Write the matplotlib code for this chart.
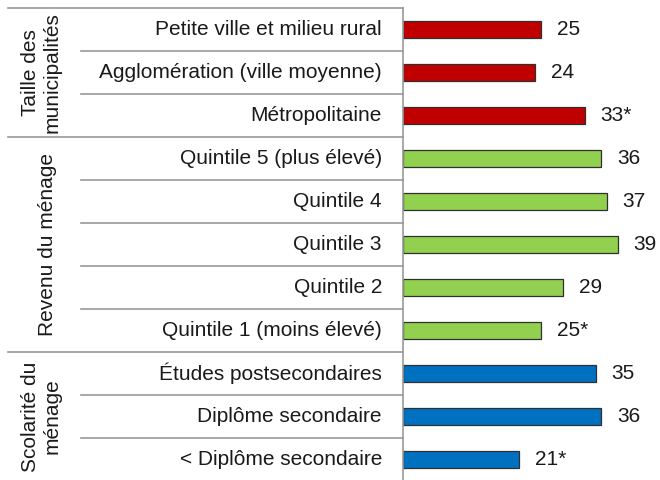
import matplotlib.pyplot as plt
import matplotlib.transforms as mtransforms

plt.rcParams['font.family'] = ['Liberation Sans', 'DejaVu Sans']

# rows from top to bottom
categories = [
    "Petite ville et milieu rural",
    "Agglomération (ville moyenne)",
    "Métropolitaine",
    "Quintile 5 (plus élevé)",
    "Quintile 4",
    "Quintile 3",
    "Quintile 2",
    "Quintile 1 (moins élevé)",
    "Études postsecondaires",
    "Diplôme secondaire",
    "< Diplôme secondaire",
]
values = [25, 24, 33, 36, 37, 39, 29, 25, 35, 36, 21]
value_labels = ["25", "24", "33*", "36", "37", "39", "29", "25*", "35", "36", "21*"]

groups = ["Taille des\nmunicipalités", "Revenu du ménage", "Scolarité du\nménage"]
group_sizes = [3, 5, 3]
group_colors = ["#C00000", "#92D050", "#0070C0"]

W, H = 660, 480
fig = plt.figure(figsize=(6.6, 4.8), dpi=100)
x0 = 403
top, bottom = 8, 481
ax = fig.add_axes([x0 / W, 1 - bottom / H, (W - x0) / W, (bottom - top) / H])

n = len(categories)
ax.set_ylim(n, 0)
ax.set_xlim(0, (W - x0) / 5.5)
ax.axis("off")

colors = []
for c, s in zip(group_colors, group_sizes):
    colors += [c] * s

ypos = [i + 0.5 for i in range(n)]
ax.barh(ypos, values, height=0.4, color=colors, edgecolor="#303030", linewidth=0.9)

fs = 15
txt_col = "#1a1a1a"

# value labels
offset = mtransforms.offset_copy(ax.transData, fig=fig, x=16, y=0, units="dots")
for y, v, lab in zip(ypos, values, value_labels):
    ax.text(v, y, lab, transform=offset, ha="left", va="center", fontsize=fs, color=txt_col)

# left side: labels and separators in figure-x / data-y coords
blend = mtransforms.blended_transform_factory(fig.transFigure, ax.transData)
line_col = "#999999"

for y, lab in zip(ypos, categories):
    ax.text(382 / W, y, lab, transform=blend, ha="right", va="center",
            fontsize=fs, color=txt_col, clip_on=False)

# vertical axis line
ax.plot([x0 / W, x0 / W], [0, n], transform=blend, color=line_col, lw=1.2, clip_on=False)

start = 0
ax.plot([8 / W, x0 / W], [0, 0], transform=blend, color=line_col, lw=1.2, clip_on=False)
for g, s in zip(groups, group_sizes):
    for k in range(1, s):
        ax.plot([81 / W, x0 / W], [start + k, start + k], transform=blend,
                color=line_col, lw=1.2, clip_on=False)
    end = start + s
    if end < n:
        ax.plot([8 / W, x0 / W], [end, end], transform=blend, color=line_col,
                lw=1.2, clip_on=False)
    gx = 41 if "\n" in g else 48
    ax.text(gx / W, (start + end) / 2, g, transform=blend, rotation=90,
            ha="center", va="center", ma="center", fontsize=fs, color=txt_col,
            linespacing=1.15, clip_on=False)
    start = end

fig.savefig("out.png", dpi=100)
